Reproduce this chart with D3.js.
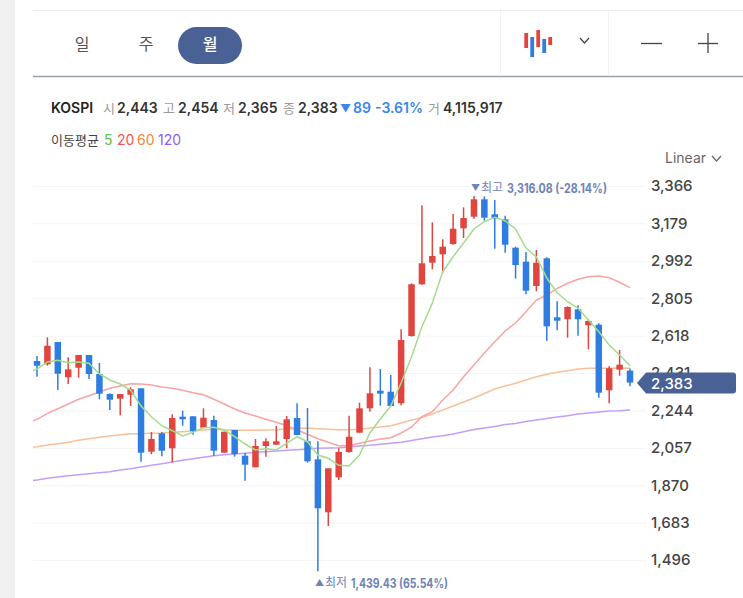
<!DOCTYPE html>
<html lang="ko">
<head>
<meta charset="utf-8">
<title>KOSPI 월봉</title>
<script src="https://cdn.jsdelivr.net/npm/d3@7/dist/d3.min.js"></script>
<style>
  html, body { margin: 0; padding: 0; background: #fff; overflow: hidden; }
  svg { display: block; }
  text { font-family: Inter, "Noto Sans CJK KR", "Noto Sans", sans-serif; }
</style>
</head>
<body>
<svg id="chart" width="743" height="598"></svg>
<script>
// Monthly KOSPI candles
const opens  = [2491,2474.5,2586,2409.5,2457.5,2521,2426,2326,2302.5,2322.5,2354.5,2037.5,2129.5,2054.5,2212.5,2214.5,2157.5,2196,2032.5,2146,2017.5,1959.5,2066,2072.5,2101,2206,2089.5,1999.5,1734.5,1909.5,2036,2132.5,2254.5,2342.5,2337.5,2279.5,2616,2874.5,2982.5,3024.5,3076,3154.5,3212.5,3299.5,3224.5,3199.5,3057.5,2987.5,2866,3004.5,2709.5,2699.5,2749.5,2669.5,2672.5,2344.5,2447.5,2443];
const highs  = [2516,2609.5,2586,2509.5,2521,2521,2481,2329.5,2326,2359.5,2354.5,2136,2136,2224.5,2242.5,2214.5,2254.5,2217.5,2137.5,2146,2032.5,2101,2104.5,2166,2216,2279.5,2256,2089.5,1954.5,2054.5,2217.5,2282.5,2459.5,2451,2421,2649.5,2879.5,3269.5,3184.5,3099.5,3226,3259.5,3316.08,3314,3296,3217.5,3062.5,3036,3046,3009.5,2789.5,2764.5,2769.5,2699.5,2679.5,2464.5,2546,2454];
const lows   = [2412.5,2467.5,2346,2376,2407.5,2401,2299.5,2246,2219.5,2266,1987.5,2024.5,2014.5,1984.5,2167.5,2122.5,2157.5,2016,2032.5,2012.5,1892.5,1959.5,2012.5,2072.5,2054.5,2121,1982.5,1439.43,1666,1896,2032.5,2132.5,2237.5,2267.5,2266,2269.5,2612.5,2872.5,2949.5,2932.5,3072.5,3106,3202.5,3192.5,3052.5,3032.5,2902.5,2824.5,2839.5,2592.5,2644.5,2607.5,2617.5,2549.5,2307.5,2279.5,2417.5,2365];
const closes = [2467.5,2567.5,2427.5,2449.5,2521,2426,2327.5,2297.5,2326,2349.5,2032.5,2101,2042.5,2206,2199.5,2141,2207.5,2042.5,2137.5,2026,1972.5,2066,2089.5,2089.5,2199.5,2121,1989.5,1754.5,1954.5,2036,2112.5,2254.5,2329.5,2327.5,2266,2596,2874.5,2979.5,3016,3062.5,3152.5,3206,3299.5,3207.5,3202.5,3072.5,2971,2842.5,2982.5,2664.5,2692.5,2761,2699.5,2691,2332.5,2454.5,2472.5,2383];

// Moving averages begin one month before the first visible candle
const ma5   = [2431,2451,2486,2494.5,2482.5,2486,2479.5,2426,2396,2376,2346,2266,2212.5,2167.5,2142.5,2116,2134.5,2157.5,2159.5,2146,2112.5,2076,2046,2052.5,2046,2079.5,2112.5,2087.5,2021,2004.5,1969.5,1966,2021,2131,2201,2266,2381,2512.5,2662.5,2781,2937.5,3012.5,3081,3151,3187.5,3209.5,3192.5,3151,3056,3011,2906,2832.5,2787.5,2756,2696,2637.5,2571,2521,2467.5];
const ma20  = [2181,2199.5,2229.5,2252.5,2276,2299.5,2317.5,2336,2354.5,2366,2377.5,2376,2371,2361,2354.5,2344.5,2332.5,2322.5,2299.5,2276,2251,2231,2216,2199.5,2184.5,2167.5,2146,2124.5,2102.5,2084.5,2067.5,2067.5,2079.5,2091,2101,2107.5,2131,2161,2212.5,2237.5,2296,2346,2412.5,2471,2531,2587.5,2641,2681,2737.5,2796,2821,2854.5,2879.5,2899.5,2912.5,2916,2907.5,2884.5,2857.5];
const ma60  = [2056,2062.5,2071,2077.5,2084.5,2094.5,2102.5,2109.5,2116,2122.5,2127.5,2127.5,2129.5,2131,2134.5,2137.5,2141,2146,2149.5,2146,2146,2144.5,2144.5,2146,2147.5,2151,2154.5,2156,2152.5,2149.5,2147.5,2147.5,2149.5,2156,2161,2167.5,2181,2196,2208.5,2226,2246,2266,2286,2306,2328.5,2351,2366,2379.5,2396,2412.5,2424.5,2434.5,2442.5,2451,2454.5,2454.5,2454.5,2456,2454.5];
const ma120 = [1891,1896,1904.5,1911,1917.5,1922.5,1927.5,1932.5,1937.5,1946,1952.5,1961,1969.5,1977.5,1986,1994.5,2002.5,2009.5,2017.5,2022.5,2026,2029.5,2034.5,2037.5,2041,2044.5,2047.5,2051,2054.5,2056,2057.5,2061,2066,2069.5,2074.5,2079.5,2084.5,2093.5,2102.5,2111,2117,2126,2137.5,2148.5,2156,2163.5,2173.5,2178.5,2188.5,2196,2203.5,2211,2217.5,2226,2231,2236,2241,2242.5,2246];

const yTicks = [3366,3179,2992,2805,2618,2431,2244,2057,1870,1683,1496];
const lastClose = 2383;
const tabs = ["일","주","월"];
const quote = [
  ["시","2,443",103,117], ["고","2,454",163,178], ["저","2,365",223,238],
  ["종","2,383",283,298], ["거","4,115,917",428,443]
];
const maLegend = [["5","#5cc04a",104],["20","#f25555",117],["60","#f28a3a",137],["120","#8b5cf6",158]];

const UP = "#e0453f", DOWN = "#2f7de1", NAVY = "#4a6196", MARK = "#6f83b6";

const svg = d3.select("#chart");
const x = d3.scaleLinear().domain([0, opens.length - 1]).range([37, 630]);
const y = d3.scaleLinear().domain([1496, 3366]).range([560, 186]);

// Page chrome: side strip, toolbar rules
svg.append("rect").attr("width", 15).attr("height", 598).attr("fill", "#f0f0f0");
const rule = (x1, y1, x2, y2, c, w) => svg.append("line")
  .attr("x1", x1).attr("y1", y1).attr("x2", x2).attr("y2", y2)
  .attr("stroke", c).attr("stroke-width", w);
rule(33, 10.5, 743, 10.5, "#ececec", 1);
rule(33, 76.5, 743, 76.5, "#99a1ad", 1.4);
rule(500.5, 11, 500.5, 76, "#f1f1f6", 1);
rule(608.5, 11, 608.5, 76, "#f1f1f6", 1);

// Period tabs
svg.append("rect").attr("x", 178).attr("y", 27).attr("width", 64).attr("height", 37)
  .attr("rx", 18.5).attr("fill", NAVY);
svg.selectAll(".tab").data(tabs).join("text").attr("class", "tab")
  .attr("x", (d, i) => [82, 146, 210][i]).attr("y", 50)
  .attr("text-anchor", "middle").attr("font-size", 16).attr("font-weight", (d, i) => i === 2 ? 500 : 400)
  .attr("fill", (d, i) => i === 2 ? "#fff" : "#555").text(d => d);

// Chart-type icon and zoom buttons
[[524.3,33,48,UP],[530.3,37,57,DOWN],[536.3,30,47,UP],[542.3,39,53,DOWN],[548.3,37,45,UP]].forEach(b => {
  svg.append("rect").attr("x", b[0]).attr("y", b[1]).attr("width", 3.8).attr("height", b[2] - b[1]).attr("fill", b[3]);
});
const chevron = (cx, cy, w, h, c) => svg.append("path")
  .attr("d", `M${cx - w / 2},${cy - h / 2}L${cx},${cy + h / 2}L${cx + w / 2},${cy - h / 2}`)
  .attr("fill", "none").attr("stroke", c).attr("stroke-width", 1.2);
chevron(584.5, 40.5, 9, 5, "#444");
rule(641, 43.5, 662, 43.5, "#444", 1.3);
rule(698, 43.5, 718, 43.5, "#444", 1.3);
rule(708, 33, 708, 53, "#444", 1.3);

// Quote line
const hdr = svg.append("g").attr("font-size", 14);
hdr.append("text").attr("x", 51).attr("y", 113).attr("font-weight", 600).attr("fill", "#222").text("KOSPI");
quote.forEach(q => {
  hdr.append("text").attr("x", q[2]).attr("y", 113).attr("fill", "#999").attr("font-size", 13).text(q[0]);
  hdr.append("text").attr("x", q[3]).attr("y", 113).attr("font-weight", 600).attr("fill", "#333").text(q[1]);
});
hdr.append("text").attr("x", 340).attr("y", 112).attr("font-size", 11).attr("fill", "#3b86ee").text("▼");
hdr.append("text").attr("x", 353).attr("y", 113).attr("font-weight", 600).attr("fill", "#3b86ee").text("89");
hdr.append("text").attr("x", 375).attr("y", 113).attr("font-weight", 600).attr("fill", "#3b86ee").text("-3.61%");

// Moving-average legend
const leg = svg.append("g").attr("font-size", 14);
leg.append("text").attr("x", 51).attr("y", 145).attr("font-size", 13).attr("fill", "#444").text("이동평균");
leg.selectAll(".ma").data(maLegend).join("text").attr("class", "ma")
  .attr("x", d => d[2]).attr("y", 145).attr("fill", d => d[1]).text(d => d[0]);

svg.append("text").attr("x", 665).attr("y", 163).attr("font-size", 14).attr("fill", "#666").text("Linear");
chevron(716.5, 158.5, 9, 5, "#666");

// Price axis with gridlines running back across the plot
const axis = d3.axisRight(y).tickValues(yTicks).tickFormat(d3.format(",")).tickSize(-613).tickPadding(5);
const axisG = svg.append("g").attr("transform", "translate(646,0)").call(axis);
axisG.select(".domain").remove();
axisG.selectAll("line").attr("stroke", "#f4f4f9");
axisG.selectAll("text").attr("x", 5).attr("font-size", 15).attr("font-weight", 500).attr("fill", "#444")
  .style("font-family", 'Inter, "Noto Sans CJK KR", sans-serif');

const plot = svg.append("g").attr("clip-path", "url(#plotClip)");
svg.append("clipPath").attr("id", "plotClip").append("rect")
  .attr("x", 33).attr("y", 170).attr("width", 610).attr("height", 428);

// Moving averages, drawn beneath the candles
const line = d3.line().x((d, i) => x(i - 1)).y(d => y(d));
[[ma120,"#c29ff6"],[ma60,"#f8c096"],[ma20,"#f9a3a3"]].forEach(s => {
  plot.append("path").attr("d", line(s[0])).attr("fill", "none").attr("stroke", s[1]).attr("stroke-width", 1.5);
});

// Candles
const idx = d3.range(opens.length);
const color = i => closes[i] >= opens[i] ? UP : DOWN;
plot.selectAll(".wick").data(idx).join("line").attr("class", "wick")
  .attr("x1", i => x(i)).attr("x2", i => x(i))
  .attr("y1", i => y(highs[i])).attr("y2", i => y(lows[i]))
  .attr("stroke", color).attr("stroke-width", 1.5);
plot.selectAll(".body").data(idx).join("rect").attr("class", "body")
  .attr("x", i => x(i) - 3.25).attr("width", 6.5)
  .attr("y", i => y(Math.max(opens[i], closes[i])))
  .attr("height", i => Math.max(1, Math.abs(y(opens[i]) - y(closes[i]))))
  .attr("fill", color);

// The 5-month average sits above the candles
plot.append("path").attr("d", line(ma5)).attr("fill", "none").attr("stroke", "#a3dc8e").attr("stroke-width", 1.5);

// High and low annotations
const mark = svg.append("g").attr("fill", MARK).attr("font-size", 12);
const peak = d3.max(highs), trough = d3.min(lows);
const peakFmt = d3.format(",.2f")(peak), troughFmt = d3.format(",.2f")(trough);
mark.append("text").attr("x", 471).attr("y", 191).attr("font-size", 9).text("▼");
mark.append("text").attr("x", 481).attr("y", 192).text("최고");
mark.append("text").attr("x", 507).attr("y", 192.5).attr("font-size", 13).attr("font-weight", 700)
  .attr("textLength", 100).attr("lengthAdjust", "spacingAndGlyphs").text(`${peakFmt} (-28.14%)`);
mark.append("text").attr("x", 315).attr("y", 586).attr("font-size", 9).text("▲");
mark.append("text").attr("x", 325).attr("y", 587).text("최저");
mark.append("text").attr("x", 351).attr("y", 587.5).attr("font-size", 13).attr("font-weight", 700)
  .attr("textLength", 97).attr("lengthAdjust", "spacingAndGlyphs").text(`${troughFmt} (65.54%)`);

// Last-price flag on the axis
const ly = y(lastClose) + 0.5;
svg.append("path")
  .attr("d", `M637,${ly}L646,${ly - 10.5}H733a3,3 0 0 1 3,3V${ly + 7.5}a3,3 0 0 1 -3,3H646Z`)
  .attr("fill", NAVY);
svg.append("text").attr("x", 651).attr("y", ly + 5.5).attr("font-size", 15).attr("font-weight", 500)
  .attr("fill", "#fff").text(d3.format(",")(lastClose));
</script>
</body>
</html>
